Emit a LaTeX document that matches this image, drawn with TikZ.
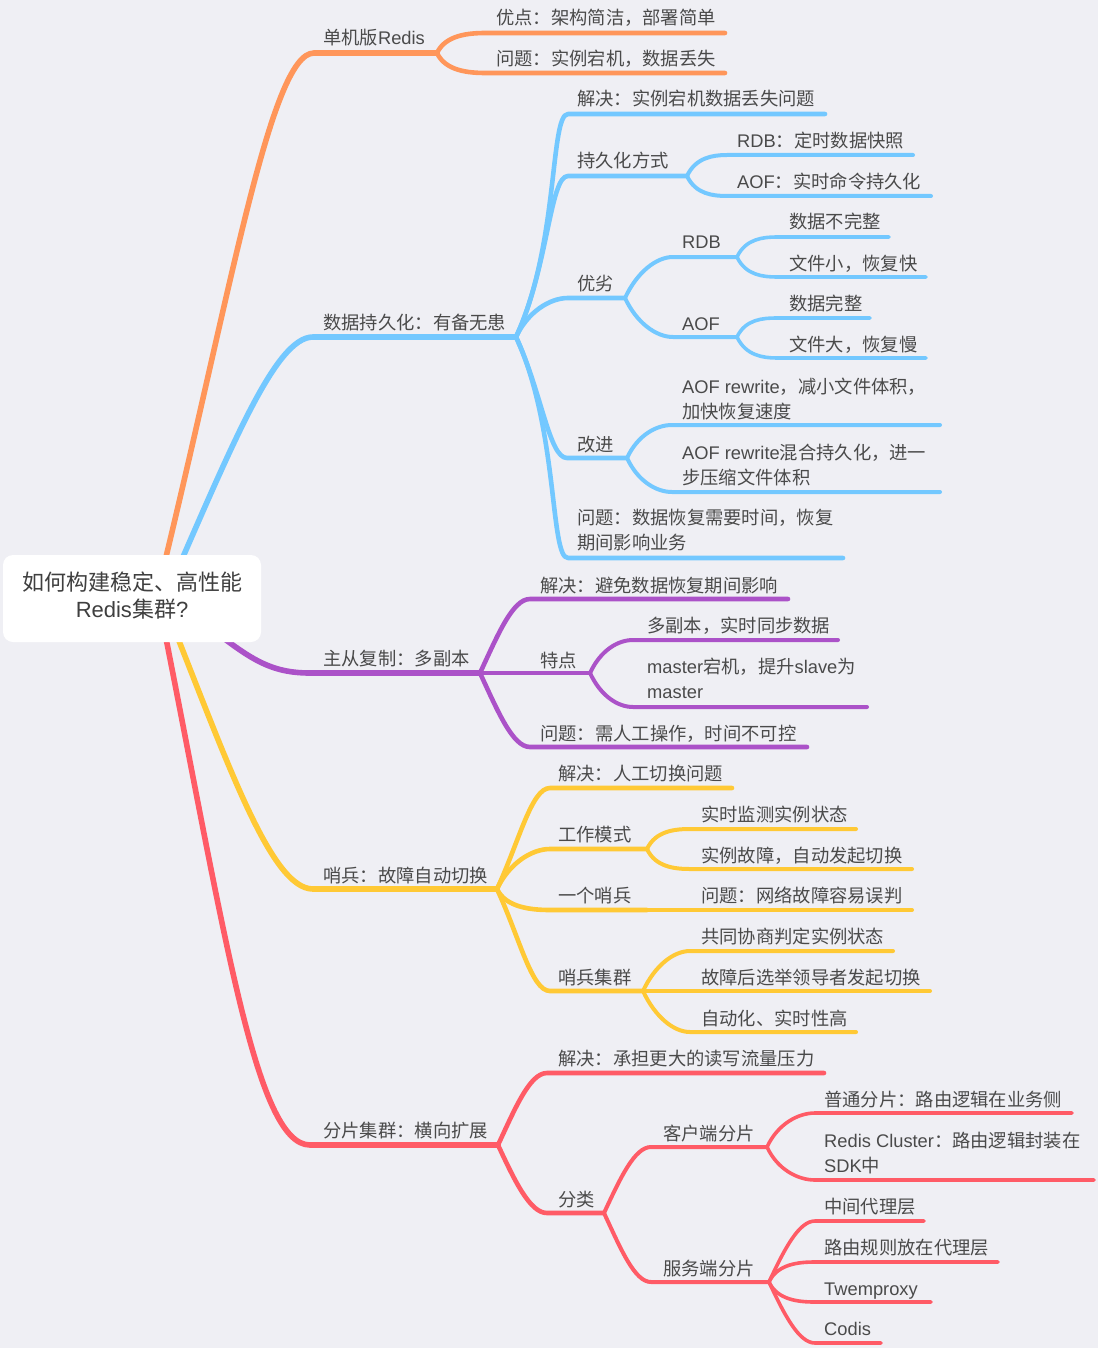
\documentclass[tikz,border=0pt]{standalone}
\usepackage{fontspec}
\setmainfont{Noto Sans CJK SC}
\newfontfamily\lat{Liberation Sans}
\usetikzlibrary{calc}
\definecolor{bg}{HTML}{EFEFF4}
\definecolor{cO}{HTML}{FF965A}
\definecolor{cB}{HTML}{73C8FF}
\definecolor{cP}{HTML}{AB52C8}
\definecolor{cY}{HTML}{FFC935}
\definecolor{cR}{HTML}{FF5B66}
\definecolor{tx}{HTML}{4A4A4A}
\newcommand\mfs{\fontsize{18.3}{25.5}\selectfont}
\newcommand\rfs{\fontsize{22}{27}\selectfont}
\newcommand\mtwo[1]{\begin{tabular}[t]{@{}l@{}}#1\end{tabular}}
\tikzset{
  lbl/.style={anchor=base west, inner sep=0pt, text=tx, font=\mfs},
  cn/.style={line cap=round, line join=round},
  w1/.style={line width=5.6pt},
  w2/.style={line width=4.6pt},
  w3/.style={line width=4pt},
  w4/.style={line width=3.6pt},
  br/.style={to path={let \p1=(\tikztostart),\p2=(\tikztotarget),\n1={abs(\y2-\y1)},\n2={\x2-\x1},\n3={sign(\y2-\y1)} in
     .. controls ({\x1+0.423*(0.4*\n1+12)},{\y1+0.906*(0.4*(\y2-\y1)+12*\n3)}) and ({\x2-0.35*\n2},{\y2}) .. (\tikztotarget)}},
  rootbox/.style={fill=white, rounded corners=10pt, minimum width=258pt, minimum height=87pt, inner sep=0pt, text=tx!85!black, font=\rfs}
}
\begin{document}
\begin{tikzpicture}[x=1pt,y=-1pt]
\useasboundingbox (0,0) rectangle (1098,1348);
\fill[bg] (0,0) rectangle (1098,1348);

% ---------- coordinates of root connectors (hidden under the root box) ----------
\coordinate (ro) at (156,598);
\coordinate (rb) at (165,598);
\coordinate (rp) at (190,612);
\coordinate (ry) at (162,598);
\coordinate (rr) at (158,598);
\coordinate (oc) at (314,53);
\coordinate (bc) at (313,337);
\coordinate (pc) at (310,673);
\coordinate (yc) at (313,889);
\coordinate (rc) at (310,1145);
\coordinate (J0) at (437,53);
\coordinate (Jb) at (516,337);
\coordinate (Jp) at (480,673);
\coordinate (Jy) at (497,889);
\coordinate (Jr) at (498,1145);

% ---------- level 1 ----------
\draw[cn,w1,cO] (ro) .. controls (230,298) and (270,53) .. (oc) -- (J0);
\draw[cn,w1,cB] (rb) .. controls (231,448) and (275,337) .. (bc) -- (Jb);
\draw[cn,w1,cP] (rp) .. controls (245,655) and (265,673) .. (pc) -- (Jp);
\draw[cn,w1,cY] (ry) .. controls (226,758) and (270,889) .. (yc) -- (Jy);
\draw[cn,w1,cR] (rr) .. controls (224,928) and (255,1145) .. (rc) -- (Jr);

\node[rootbox] (root) at (132,598.5) {\begin{tabular}{@{}c@{}}如何构建稳定、高性能\\{\lat Redis}集群{\lat ?}\end{tabular}};

\node[lbl] (n1) at (323,45) {单机版{\lat Redis}};
\node[lbl] (n2) at (323,329) {数据持久化：有备无患};
\node[lbl] (n3) at (323,665) {主从复制：多副本};
\node[lbl] (n4) at (323,882) {哨兵：故障自动切换};
\node[lbl] (n5) at (323,1137) {分片集群：横向扩展};

% ---------- orange ----------
\draw[cn,w2,cO] (J0) to[br] (486,33) coordinate (o1s) -- (725,33) coordinate (o1e);
\draw[cn,w2,cO] (J0) to[br] (486,73) coordinate (o2s) -- (725,73) coordinate (o2e);
\node[lbl] (o1) at (496,25) {优点：架构简洁，部署简单};
\node[lbl] (o2) at (496,66) {问题：实例宕机，数据丢失};

% ---------- blue ----------
\draw[cn,w2,cB] (Jb) to[br] (568,114) coordinate (b1s) -- (825,114) coordinate (b1e);
\draw[cn,w2,cB] (Jb) to[br] (568,176) coordinate (b2s) -- (687,176) coordinate (b2j);
\draw[cn,w2,cB] (Jb) to[br] (568,298) coordinate (b3s) -- (625,298) coordinate (b3j);
\draw[cn,w2,cB] (Jb) to[br] (567,458) coordinate (b4s) -- (627,458) coordinate (b4j);
\draw[cn,w2,cB] (Jb) to[br] (568,558) coordinate (b5s) -- (843,558) coordinate (b5e);
\draw[cn,w3,cB] (b2j) to[br] (727,155) coordinate (b21s) -- (913,155);
\draw[cn,w3,cB] (b2j) to[br] (727,196) coordinate (b22s) -- (931,196);
\draw[cn,w3,cB] (b3j) to[br] (673,257) coordinate (b31s) -- (737,257) coordinate (b31j);
\draw[cn,w3,cB] (b3j) to[br] (673,337) coordinate (b32s) -- (737,337) coordinate (b32j);
\draw[cn,w4,cB] (b31j) to[br] (777,237) coordinate (b311s) -- (889,237);
\draw[cn,w4,cB] (b31j) to[br] (777,277) coordinate (b312s) -- (926,277);
\draw[cn,w4,cB] (b32j) to[br] (777,318) coordinate (b321s) -- (870,318);
\draw[cn,w4,cB] (b32j) to[br] (777,358) coordinate (b322s) -- (926,358);
\draw[cn,w3,cB] (b4j) to[br] (672,425) coordinate (b41s) -- (940,425);
\draw[cn,w3,cB] (b4j) to[br] (672,492) coordinate (b42s) -- (940,492);

\node[lbl] (b1) at (577,106) {解决：实例宕机数据丢失问题};
\node[lbl] (b2) at (577,168) {持久化方式};
\node[lbl] (b21) at (737,148) {{\lat RDB}：定时数据快照};
\node[lbl] (b22) at (737,189) {{\lat AOF}：实时命令持久化};
\node[lbl] (b3) at (577,290) {优劣};
\node[lbl] (b31) at (682,249) {\lat RDB};
\node[lbl] (b311) at (789,229) {数据不完整};
\node[lbl] (b312) at (789,270) {文件小，恢复快};
\node[lbl] (b32) at (682,330) {\lat AOF};
\node[lbl] (b321) at (789,310) {数据完整};
\node[lbl] (b322) at (789,351) {文件大，恢复慢};
\node[lbl] (b4) at (577,451) {改进};
\node[lbl] (b41) at (682,393) {\mtwo{{\lat AOF rewrite}，减小文件体积，\\加快恢复速度}};
\node[lbl] (b42) at (682,459) {\mtwo{{\lat AOF rewrite}混合持久化，进一\\步压缩文件体积}};
\node[lbl] (b5) at (577,524) {\mtwo{问题：数据恢复需要时间，恢复\\期间影响业务}};

% ---------- purple ----------
\draw[cn,w2,cP] (Jp) to[br] (530,599) coordinate (p1s) -- (788,599);
\draw[cn,w2,cP] (Jp) -- (590,673) coordinate (p2j);
\draw[cn,w2,cP] (Jp) to[br] (530,747) coordinate (p3s) -- (807,747);
\draw[cn,w3,cP] (p2j) to[br] (633,640) coordinate (p21s) -- (838,640);
\draw[cn,w3,cP] (p2j) to[br] (633,707) coordinate (p22s) -- (867,707);

\node[lbl] (p1) at (540,592) {解决：避免数据恢复期间影响};
\node[lbl] (p2) at (540,667) {特点};
\node[lbl] (p21) at (647,632) {多副本，实时同步数据};
\node[lbl] (p22) at (647,673) {\mtwo{{\lat master}宕机，提升{\lat slave}为\\{\lat master}}};
\node[lbl] (p3) at (540,740) {问题：需人工操作，时间不可控};

% ---------- yellow ----------
\draw[cn,w2,cY] (Jy) to[br] (550,788) coordinate (y1s) -- (732,788);
\draw[cn,w2,cY] (Jy) to[br] (550,849) coordinate (y2s) -- (647,849) coordinate (y2j);
\draw[cn,w2,cY] (Jy) to[br] (550,910) coordinate (y3s) -- (647,910) coordinate (y3j);
\draw[cn,w2,cY] (Jy) to[br] (550,991) coordinate (y4s) -- (643,991) coordinate (y4j);
\draw[cn,w3,cY] (y2j) to[br] (690,829) coordinate (y21s) -- (856,829);
\draw[cn,w3,cY] (y2j) to[br] (690,869) coordinate (y22s) -- (912,869);
\draw[cn,w3,cY] (y3j) -- (912,910);
\draw[cn,w3,cY] (y4j) to[br] (690,951) coordinate (y41s) -- (893,951);
\draw[cn,w3,cY] (y4j) -- (930,991);
\draw[cn,w3,cY] (y4j) to[br] (690,1032) coordinate (y43s) -- (856,1032);

\node[lbl] (y1) at (558,780) {解决：人工切换问题};
\node[lbl] (y2) at (558,841) {工作模式};
\node[lbl] (y21) at (701,821) {实时监测实例状态};
\node[lbl] (y22) at (701,862) {实例故障，自动发起切换};
\node[lbl] (y3) at (558,902) {一个哨兵};
\node[lbl] (y31) at (701,902) {问题：网络故障容易误判};
\node[lbl] (y4) at (558,984) {哨兵集群};
\node[lbl] (y41) at (701,943) {共同协商判定实例状态};
\node[lbl] (y42) at (701,984) {故障后选举领导者发起切换};
\node[lbl] (y43) at (701,1025) {自动化、实时性高};

% ---------- red ----------
\draw[cn,w2,cR] (Jr) to[br] (547,1073) coordinate (r1s) -- (824,1073);
\draw[cn,w2,cR] (Jr) to[br] (547,1213) coordinate (r2s) -- (604,1213) coordinate (r2j);
\draw[cn,w3,cR] (r2j) to[br] (651,1147) coordinate (r21s) -- (767,1147) coordinate (r21j);
\draw[cn,w3,cR] (r2j) to[br] (651,1282) coordinate (r22s) -- (769,1282) coordinate (r22j);
\draw[cn,w4,cR] (r21j) to[br] (815,1113) coordinate (r211s) -- (1072,1113);
\draw[cn,w4,cR] (r21j) to[br] (815,1180) coordinate (r212s) -- (1094,1180);
\draw[cn,w4,cR] (r22j) to[br] (815,1221) coordinate (r221s) -- (924,1221);
\draw[cn,w4,cR] (r22j) to[br] (815,1262) coordinate (r222s) -- (998,1262);
\draw[cn,w4,cR] (r22j) to[br] (815,1302) coordinate (r223s) -- (931,1302);
\draw[cn,w4,cR] (r22j) to[br] (815,1343) coordinate (r224s) -- (881,1343);

\node[lbl] (r1) at (558,1065) {解决：承担更大的读写流量压力};
\node[lbl] (r2) at (558,1206) {分类};
\node[lbl] (r21) at (663,1140) {客户端分片};
\node[lbl] (r211) at (824,1106) {普通分片：路由逻辑在业务侧};
\node[lbl] (r212) at (824,1147) {\mtwo{{\lat Redis Cluster}：路由逻辑封装在\\{\lat SDK}中}};
\node[lbl] (r22) at (663,1275) {服务端分片};
\node[lbl] (r221) at (824,1213) {中间代理层};
\node[lbl] (r222) at (824,1254) {路由规则放在代理层};
\node[lbl] (r223) at (824,1295) {\lat Twemproxy};
\node[lbl] (r224) at (824,1335) {\lat Codis};
\end{tikzpicture}
\end{document}
